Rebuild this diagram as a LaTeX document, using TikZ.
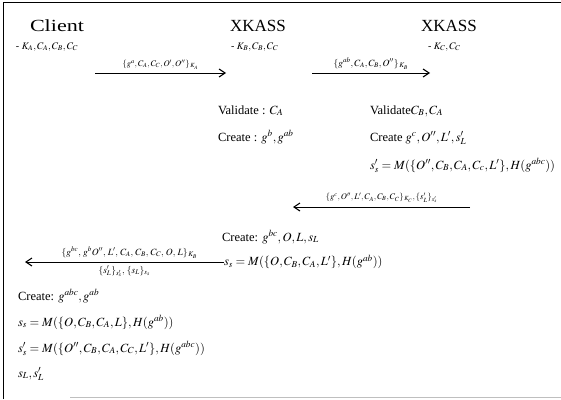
\documentclass[tikz,border=0pt]{standalone}
\usepackage{mathptmx}
\usepackage{fontspec}
\setmainfont{Liberation Serif}
\usetikzlibrary{arrows.meta}
\begin{document}
\begin{tikzpicture}[x=1pt,y=-1pt,
  every node/.style={inner sep=0pt, outer sep=0pt},
  title/.style={anchor=base west, font=\fontsize{17}{20}\selectfont},
  keys/.style={anchor=base west, font=\fontsize{10}{12}\selectfont},
  body/.style={anchor=base west, font=\fontsize{12.5}{15}\selectfont},
  lbl/.style={font=\fontsize{8.5}{10}\selectfont},
  biglbl/.style={font=\fontsize{9.5}{11}\selectfont},
  msg/.style={draw, line width=0.9pt, -{Straight Barb[length=6pt,width=8pt,line width=1.1pt]}},
  frame/.style={line width=0.8pt}]
\useasboundingbox (0,0) rectangle (561,399);
\draw[frame] (3,399) -- (3,2) -- (561,2);
\draw[gray!50, line width=0.8pt] (70,397) -- (561,397);
% headers
\node[title] (cl) at (30,31) {\scalebox{1.3}[1]{Client}};
\node[title] (xb) at (230,31) {XKASS};
\node[title] (xc) at (421,31) {XKASS};
\node[keys] (kcl) at (16,49) {- $K_A, C_A, C_B, C_C$};
\node[keys] (kxb) at (231,49) {- $K_B, C_B, C_C$};
\node[keys] (kxc) at (428,49) {- $K_C, C_C$};
% message 1
\coordinate (m1s) at (95,73);
\coordinate (m1e) at (226,73);
\draw[msg] (m1s) -- node[lbl, above=4pt] (l1) {$\{g^{a}, C_A, C_C, O', O''\}_{\,K_A}$} (m1e);
% message 2
\coordinate (m2s) at (312,73);
\coordinate (m2e) at (430,73);
\draw[msg] (m2s) -- node[biglbl, above=4pt] (l2) {$\{g^{ab}, C_A, C_B, O''\}_{\,K_B}$} (m2e);
% XKASS B processing
\node[body] (vb) at (218,114) {Validate : $C_A$};
\node[body] (cb) at (218,141) {Create : $g^{b}, g^{ab}$};
% XKASS C processing
\node[body] (vc) at (370,114) {Validate$C_B, C_A$};
\node[body] (cc) at (370,141) {Create $g^{c}, O'', L', s'_L$};
\node[body] (sc) at (370,169) {$s'_s = M(\{O'', C_B, C_A, C_c, L'\}, H(g^{abc}))$};
% message 3
\coordinate (m3s) at (470,207);
\coordinate (m3e) at (293,207);
\draw[msg] (m3s) -- node[lbl, above=4pt] (l3) {$\{g^{c}, O'', L', C_A, C_B, C_C\}_{\,K_C}, \{s'_L\}_{s'_s}$} (m3e);
% XKASS B second
\node[body] (cb2) at (222,241) {Create: $g^{bc}, O, L, s_L$};
\node[body, anchor=west] (sb) at (224,262) {$s_s = M(\{O, C_B, C_A, L'\}, H(g^{ab}))$};
% message 4
\coordinate (m4e) at (25,262);
\draw[msg] (sb.west) -- node[biglbl, above=4pt, xshift=5pt] (l4a) {$\{g^{bc},\, g^{b} O'',\, L',\, C_A,\, C_B,\, C_C,\, O,\, L\}_{\,K_B}$}
  node[biglbl, below=4pt] (l4b) {$\{s'_L\}_{s'_s},\, \{s_L\}_{s_s}$} (m4e);
% Client final
\node[body] (ca) at (18,300) {Create: $g^{abc}, g^{ab}$};
\node[body] (ss) at (18,326) {$s_s = M(\{O, C_B, C_A, L\}, H(g^{ab}))$};
\node[body] (ss2) at (18,352) {$s'_s = M(\{O'', C_B, C_A, C_C, L'\}, H(g^{abc}))$};
\node[body] (sl) at (18,377) {$s_L, s'_L$};
\end{tikzpicture}
\end{document}
